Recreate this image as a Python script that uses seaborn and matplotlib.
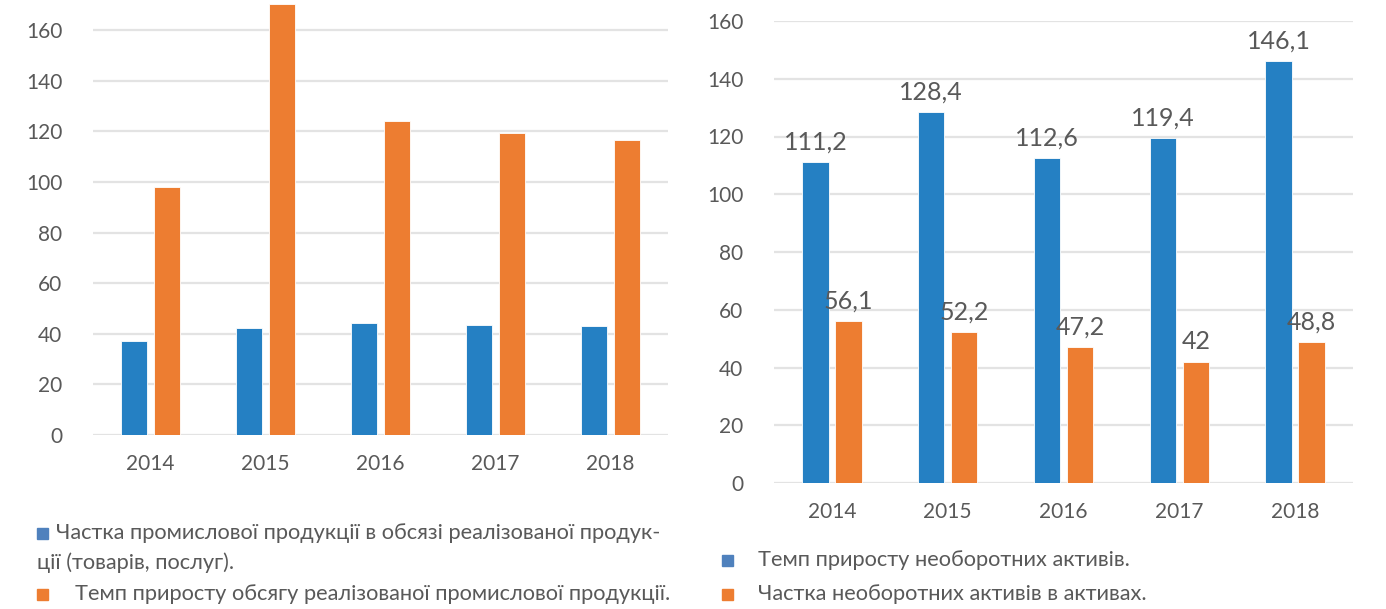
import matplotlib
matplotlib.use("Agg")
import matplotlib.pyplot as plt
from matplotlib.patches import Rectangle
import seaborn as sns
import pandas as pd

# ── Дані ────────────────────────────────────────────────────────────────
YEARS = ["2014", "2015", "2016", "2017", "2018"]

# ліва діаграма
LEFT_SHARE = [37.3, 42.3, 44.3, 43.5, 42.9]       # частка промислової продукції
LEFT_GROWTH = [98.0, 170.2, 124.3, 119.3, 116.5]  # темп приросту обсягу

# права діаграма
RIGHT_GROWTH = [111.2, 128.4, 112.6, 119.4, 146.1]  # темп приросту необоротних активів
RIGHT_SHARE = [56.1, 52.2, 47.2, 42.0, 48.8]        # частка необоротних активів

BLUE = "#2580C3"
ORANGE = "#ED7D31"
GREY = "#595959"
GRID = "#E3E3E3"

sns.set_style("white")
plt.rcParams["font.family"] = ["Lato", "DejaVu Sans"]


def long_df(a, b):
    return pd.DataFrame({
        "year": YEARS * 2,
        "value": list(a) + list(b),
        "series": ["a"] * len(YEARS) + ["b"] * len(YEARS),
    })


def style_axis(ax, ymax):
    ax.set_ylim(0, ymax)
    ax.set_yticks(range(0, 161, 20))
    ax.yaxis.grid(True, color=GRID, linewidth=1.6)
    ax.set_axisbelow(True)
    for s in ax.spines.values():
        s.set_visible(False)
    ax.set_xlabel("")
    ax.set_ylabel("")
    ax.tick_params(axis="both", length=0, colors=GREY, labelsize=15)
    ax.tick_params(axis="x", pad=14)
    ax.tick_params(axis="y", pad=22)
    ax.set_xlim(-0.5, len(YEARS) - 0.5)


fig = plt.figure(figsize=(13.86, 6.09), dpi=100)

# ── Ліва діаграма ──────────────────────────────────────────────────────
ax1 = fig.add_axes([93 / 1386, 174 / 609, 575 / 1386, 435 / 609])
sns.barplot(data=long_df(LEFT_SHARE, LEFT_GROWTH), x="year", y="value", hue="series",
            palette=[BLUE, ORANGE], saturation=1, width=0.57, gap=0.2,
            edgecolor="white", linewidth=0.6, ax=ax1, legend=False)
style_axis(ax1, 435 / 2.53)

# ── Права діаграма ─────────────────────────────────────────────────────
ax2 = fig.add_axes([774 / 1386, 126 / 609, 579 / 1386, 462 / 609])
sns.barplot(data=long_df(RIGHT_GROWTH, RIGHT_SHARE), x="year", y="value", hue="series",
            palette=[BLUE, ORANGE], saturation=1, width=0.57, gap=0.2,
            edgecolor="white", linewidth=0.6, ax=ax2, legend=False)
style_axis(ax2, 160)
for cont, vals in zip(ax2.containers, [RIGHT_GROWTH, RIGHT_SHARE]):
    ax2.bar_label(cont, labels=[f"{v:g}".replace(".", ",") for v in vals],
                  padding=6, fontsize=18, color=GREY, clip_on=False)

# ── Легенди ────────────────────────────────────────────────────────────
def square(x, y, color, size=11):
    fig.patches.append(Rectangle((x / 1386, 1 - (y + size / 2) / 609), size / 1386, size / 609,
                                 transform=fig.transFigure, color=color, figure=fig))


txt = dict(fontsize=15.7, color=GREY, va="center", ha="left")
square(37, 533, "#4F81BD")
fig.text(56 / 1386, 1 - 533 / 609, "Частка промислової продукції в обсязі реалізованої продук-", **txt)
fig.text(37 / 1386, 1 - 563 / 609, "ції (товарів, послуг).", **txt)
square(37, 594, ORANGE)
fig.text(75 / 1386, 1 - 594 / 609, "Темп приросту обсягу реалізованої промислової продукції.", **txt)

square(722, 560, "#4F81BD")
fig.text(758 / 1386, 1 - 560 / 609, "Темп приросту необоротних активів.", **txt)
square(722, 594, ORANGE)
fig.text(758 / 1386, 1 - 594 / 609, "Частка необоротних активів в активах.", **txt)

fig.savefig("out.png", dpi=100)
